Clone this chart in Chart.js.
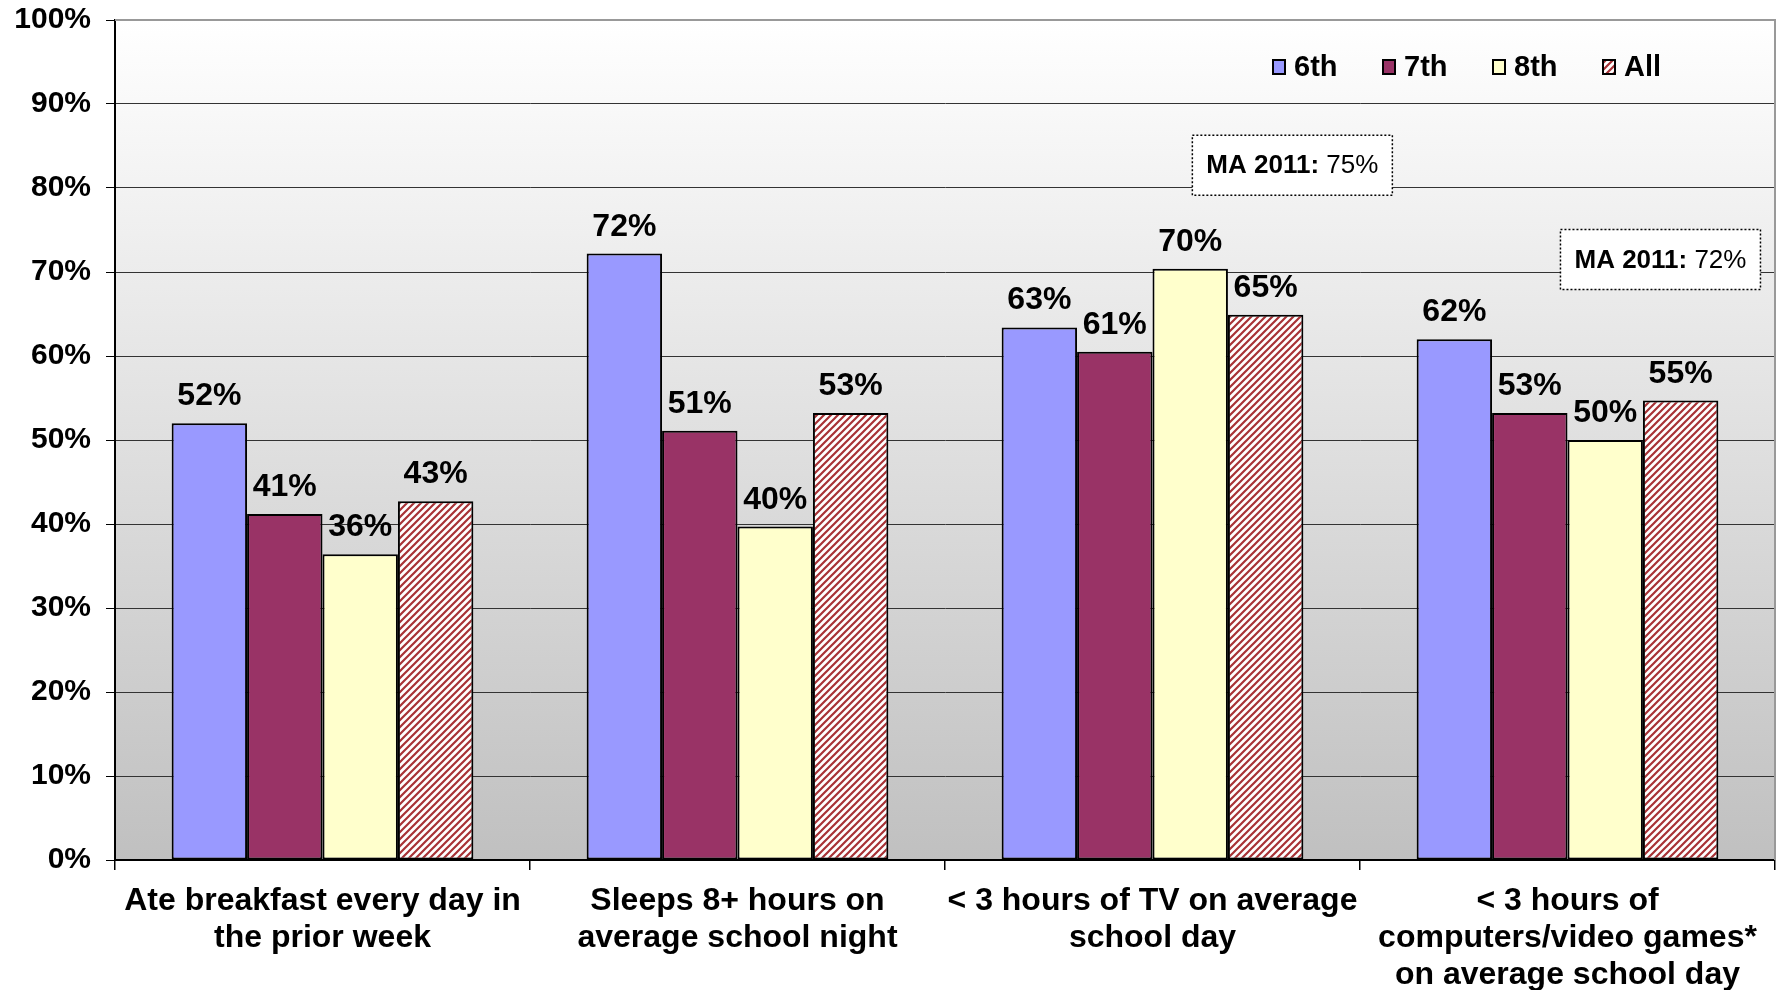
<!DOCTYPE html>
<html>
<head>
<meta charset="utf-8">
<script src="https://cdn.jsdelivr.net/npm/chart.js@4.4.1/dist/chart.umd.min.js"></script>
<style>
  html, body { margin: 0; padding: 0; background: #fff; }
  canvas { display: block; }
</style>
</head>
<body>
<canvas id="chart" width="1782" height="990"></canvas>
<script>
const categories = [
    ['Ate breakfast every day in', 'the prior week'],
    ['Sleeps 8+ hours on', 'average school night'],
    ['< 3 hours of TV on average', 'school day'],
    ['< 3 hours of', 'computers/video games*', 'on average school day']
];
const seriesNames = ['6th', '7th', '8th', 'All'];
const grade6 = [52.0, 72.2, 63.4, 62.0];
const grade7 = [41.2, 51.1, 60.5, 53.2];
const grade8 = [36.4, 39.7, 70.4, 50.0];
const allGrades = [42.7, 53.2, 64.9, 54.7];
const benchmarkLabel = 'MA 2011:';
const benchmarkCategories = [2, 3];
const benchmarkValues = [75, 72];

const FONT = "'Liberation Sans', Arial, sans-serif";

function makeHatch() {
    const size = 7;
    const c = document.createElement('canvas');
    c.width = c.height = size;
    const g = c.getContext('2d');
    g.fillStyle = '#fff';
    g.fillRect(0, 0, size, size);
    g.strokeStyle = '#a83236';
    g.lineWidth = 2.2;
    g.beginPath();
    g.moveTo(-1, size + 1); g.lineTo(size + 1, -1);
    g.moveTo(-1, 1); g.lineTo(1, -1);
    g.moveTo(size - 1, size + 1); g.lineTo(size + 1, size - 1);
    g.stroke();
    return g.createPattern(c, 'repeat');
}

const hatch = makeHatch();
const fills = ['#9999ff', '#993366', '#ffffcc', hatch];
const values = [grade6, grade7, grade8, allGrades];

// gradient behind the plot + top/right frame
const plotBackground = {
    id: 'plotBackground',
    beforeDraw(chart) {
        const { ctx, chartArea: a } = chart;
        const grad = ctx.createLinearGradient(0, a.top, 0, a.bottom);
        grad.addColorStop(0, '#ffffff');
        grad.addColorStop(1, '#c0c0c0');
        ctx.save();
        ctx.fillStyle = grad;
        ctx.fillRect(a.left, a.top, a.right - a.left, a.bottom - a.top);
        ctx.restore();
    },
    afterDraw(chart) {
        const { ctx, chartArea: a } = chart;
        ctx.save();
        ctx.strokeStyle = '#999';
        ctx.lineWidth = 2;
        ctx.beginPath();
        ctx.moveTo(a.left, a.top);
        ctx.lineTo(a.right, a.top);
        ctx.lineTo(a.right, a.bottom);
        ctx.stroke();
        ctx.restore();
    }
};

const barLabels = {
    id: 'barLabels',
    afterDatasetsDraw(chart) {
        const { ctx } = chart;
        ctx.save();
        ctx.font = `bold 32px ${FONT}`;
        ctx.fillStyle = '#000';
        ctx.textAlign = 'center';
        ctx.textBaseline = 'alphabetic';
        chart.data.datasets.forEach((ds, i) => {
            chart.getDatasetMeta(i).data.forEach((el, j) => {
                ctx.fillText(Math.round(ds.data[j]) + '%', el.x, el.y - 18);
            });
        });
        ctx.restore();
    }
};

const legendBox = {
    id: 'legendBox',
    afterDraw(chart) {
        const { ctx, chartArea: a } = chart;
        const y = a.top + 47;
        let x = a.right - 502;
        ctx.save();
        ctx.font = `bold 29px ${FONT}`;
        ctx.textBaseline = 'middle';
        ctx.textAlign = 'left';
        chart.data.datasets.forEach(ds => {
            ctx.fillStyle = ds.backgroundColor;
            ctx.fillRect(x, y - 7, 12, 14);
            ctx.strokeStyle = '#000';
            ctx.lineWidth = 2;
            ctx.strokeRect(x, y - 7, 12, 14);
            ctx.fillStyle = '#000';
            ctx.fillText(ds.label, x + 21, y + 1);
            x += 110;
        });
        ctx.restore();
    }
};

const benchmarkBoxes = {
    id: 'benchmarkBoxes',
    afterDraw(chart, args, opts) {
        const { ctx, scales } = chart;
        const catW = scales.x.width / categories.length;
        ctx.save();
        benchmarkCategories.forEach((cat, i) => {
            const cx = scales.x.getPixelForValue(cat) + opts.dx[i] * catW;
            const cy = scales.y.getPixelForValue(opts.at[i]);
            const w = 200, h = 60;
            ctx.fillStyle = '#fff';
            ctx.fillRect(cx - w / 2, cy - h / 2, w, h);
            ctx.setLineDash([2, 2]);
            ctx.strokeStyle = '#000';
            ctx.lineWidth = 1.5;
            ctx.strokeRect(cx - w / 2, cy - h / 2, w, h);
            ctx.setLineDash([]);
            const bold = benchmarkLabel + ' ';
            const plain = benchmarkValues[i] + '%';
            ctx.font = `bold 26px ${FONT}`;
            const bw = ctx.measureText(bold).width;
            ctx.font = `26px ${FONT}`;
            const pw = ctx.measureText(plain).width;
            let tx = cx - (bw + pw) / 2;
            ctx.fillStyle = '#000';
            ctx.textBaseline = 'middle';
            ctx.textAlign = 'left';
            ctx.font = `bold 26px ${FONT}`;
            ctx.fillText(bold, tx, cy + 1);
            ctx.font = `26px ${FONT}`;
            ctx.fillText(plain, tx + bw, cy + 1);
        });
        ctx.restore();
    }
};

new Chart(document.getElementById('chart'), {
    type: 'bar',
    data: {
        labels: categories,
        datasets: seriesNames.map((name, i) => ({
            label: name,
            data: values[i],
            backgroundColor: fills[i],
            borderColor: '#000',
            borderWidth: 2,
            borderSkipped: false,
            categoryPercentage: 0.727,
            barPercentage: 1.0
        }))
    },
    options: {
        responsive: false,
        animation: false,
        layout: { padding: { top: 20, right: 7, left: 0, bottom: 0 } },
        plugins: {
            legend: { display: false },
            tooltip: { enabled: false },
            benchmarkBoxes: { dx: [0.337, 0.224], at: [82.7, 71.5] }
        },
        scales: {
            x: {
                grid: { drawOnChartArea: false, tickLength: 10, color: '#000', lineWidth: 1.5 },
                border: { color: '#000', width: 2 },
                ticks: {
                    color: '#000',
                    padding: 13,
                    maxRotation: 0,
                    autoSkip: false,
                    font: { family: FONT, size: 32, weight: 'bold', lineHeight: 1.15 }
                },
                afterFit: s => { s.height = 130; }
            },
            y: {
                min: 0,
                max: 100,
                ticks: {
                    stepSize: 10,
                    color: '#000',
                    padding: 15,
                    callback: v => v + '%',
                    font: { family: FONT, size: 30, weight: 'bold' }
                },
                grid: {
                    color: c => c.tick && c.tick.value === 100 ? '#999' : '#333',
                    tickColor: '#000',
                    tickLength: 9,
                    lineWidth: 1
                },
                border: { color: '#000', width: 2 },
                afterFit: s => { s.width = 115; s.paddingTop = 0; s.paddingBottom = 0; }
            }
        }
    },
    plugins: [plotBackground, barLabels, legendBox, benchmarkBoxes]
});
</script>
</body>
</html>
